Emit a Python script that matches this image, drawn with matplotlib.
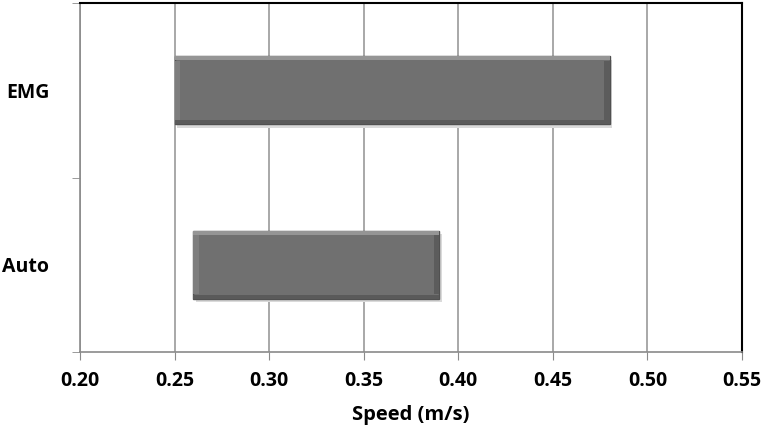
import matplotlib.pyplot as plt
from matplotlib.ticker import FixedLocator

plt.rcParams["font.family"] = ["Open Sans", "DejaVu Sans"]

# Data: start and end speeds (m/s) for each condition
categories = ["Auto", "EMG"]
speed_low = [0.26, 0.25]
speed_high = [0.39, 0.48]
xticks = [0.20, 0.25, 0.30, 0.35, 0.40, 0.45, 0.50, 0.55]

widths = [h - l for l, h in zip(speed_low, speed_high)]
ypos = list(range(len(categories)))

fig = plt.figure(figsize=(7.64, 4.30), dpi=100)
ax = fig.add_axes([0.1047, 0.1814, 0.8665, 0.8116])

bar_h = 0.39
bevel = 0.003  # bevel thickness along x, in data units
# soft shadow
ax.barh([y - 0.02 for y in ypos], widths, left=[l + 0.0015 for l in speed_low],
        height=bar_h, color="#dadada", zorder=2)
# main bar
ax.barh(ypos, widths, left=speed_low, height=bar_h, color="#707070",
        edgecolor="#505050", linewidth=1.0, zorder=3)
# bevel highlights: top light, bottom dark, left light, right dark
ax.barh([y + bar_h / 2 - 0.012 for y in ypos], widths, left=speed_low,
        height=0.024, color="#959595", zorder=4)
ax.barh([y - bar_h / 2 + 0.012 for y in ypos], widths, left=speed_low,
        height=0.024, color="#5a5a5a", zorder=4)
ax.barh(ypos, bevel, left=speed_low, height=bar_h - 0.05, color="#7e7e7e", zorder=4)
ax.barh(ypos, bevel, left=[h - bevel for h in speed_high], height=bar_h - 0.05,
        color="#5c5c5c", zorder=4)

ax.set_xlim(0.20, 0.55)
ax.set_ylim(-0.5, 1.5)
ax.set_xticks(xticks)
ax.set_xticklabels([f"{t:.2f}" for t in xticks], fontsize=14, fontweight="bold")
ax.set_yticks(ypos)
ax.set_yticklabels(categories, fontsize=14, fontweight="bold")
ax.yaxis.set_minor_locator(FixedLocator([-0.5, 0.5, 1.5]))
ax.tick_params(axis="y", which="major", length=0, pad=22)
ax.tick_params(axis="y", which="minor", length=6, color="#8a8a8a", direction="out")
ax.tick_params(axis="x", length=6, color="#8a8a8a", direction="out", pad=8)

ax.grid(axis="x", color="#9a9a9a", linewidth=1.2, zorder=0)
ax.set_axisbelow(True)

ax.spines["left"].set_color("#8a8a8a")
ax.spines["bottom"].set_color("#8a8a8a")
ax.spines["left"].set_linewidth(1.2)
ax.spines["bottom"].set_linewidth(1.2)
ax.spines["top"].set_color("black")
ax.spines["right"].set_color("black")
ax.spines["top"].set_linewidth(1.5)
ax.spines["right"].set_linewidth(1.5)

ax.set_xlabel("Speed (m/s)", fontsize=14.5, fontweight="bold", labelpad=10)

fig.savefig("out.png", dpi=100)
